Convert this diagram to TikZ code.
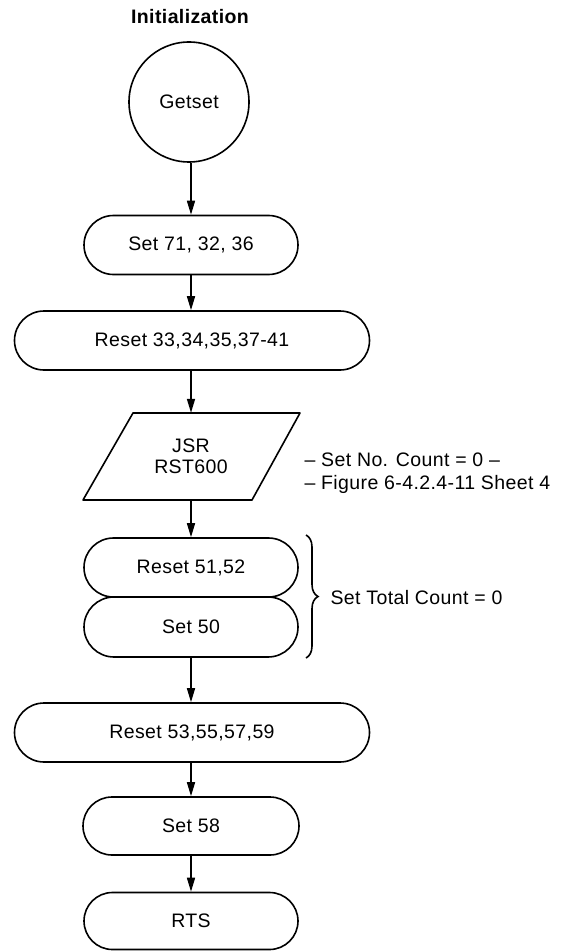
\documentclass[tikz,border=0pt]{standalone}
\usepackage{fontspec}
\setmainfont[LetterSpace=2]{Liberation Sans}
\usetikzlibrary{arrows.meta,shapes.misc,decorations.pathreplacing}
\begin{document}
\begin{tikzpicture}[x=1pt,y=-1pt,
  every node/.style={font=\fontsize{19.5}{23}\selectfont},
  stad/.style={draw,line width=1.6pt,rounded rectangle,minimum height=59pt,inner sep=0pt},
  narrowbox/.style={stad,minimum width=214pt},
  widebox/.style={stad,minimum width=355pt},
  arr/.style={line width=1.6pt,-{Triangle[length=14pt,width=8pt]}}]
\useasboundingbox (0,0) rectangle (561,952);
\node[font=\fontsize{19.5}{23}\selectfont\bfseries] (title) at (190,17) {Initialization};
\node[draw,circle,line width=1.6pt,minimum size=120pt,inner sep=0pt] (c) at (189,102) {Getset};
\node[narrowbox] (s71) at (191,245) {Set 71, 32, 36};
\node[widebox] (r33) at (192,340.5) {Reset 33,34,35,37-41};
\node[minimum width=167pt,minimum height=87pt,inner sep=0pt,align=center] (para) at (191,456.5) {JSR\\[-2pt]RST600};
\draw[line width=1.6pt,line join=round] (133,413) -- (300,413) -- (252,500) -- (83,500) -- cycle;
\node[anchor=west] (t1) at (301,460) {-- Set No. Count = 0 --};
\node[anchor=west] (t2) at (301,484) {-- Figure 6-4.2.4-11 Sheet 4};
\node[narrowbox] (r51) at (191,567.5) {Reset 51,52};
\node[narrowbox,minimum height=60pt] (s50) at (191,627) {Set 50};
\draw[line width=1.6pt,decorate,decoration={brace,amplitude=12pt}] (306,535) -- (306,658);
\node[anchor=west] (tc) at (327,598) {Set Total Count = 0};
\node[widebox] (r53) at (192,732.5) {Reset 53,55,57,59};
\node[stad,minimum width=216pt,minimum height=58pt] (s58) at (191,826) {Set 58};
\node[narrowbox,minimum height=57pt] (rts) at (191,921) {RTS};
\draw[arr] (s71.north |- c.south) -- (s71.north);
\draw[arr] (s71.south) -- (s71.south |- r33.north);
\draw[arr] (s71.south |- r33.south) -- (s71.south |- para.north);
\draw[arr] (s71.south |- para.south) -- (r51.north);
\draw[arr] (s50.south) -- (s50.south |- r53.north);
\draw[arr] (s50.south |- r53.south) -- (s58.north);
\draw[arr] (s58.south) -- (rts.north);
\end{tikzpicture}
\end{document}
